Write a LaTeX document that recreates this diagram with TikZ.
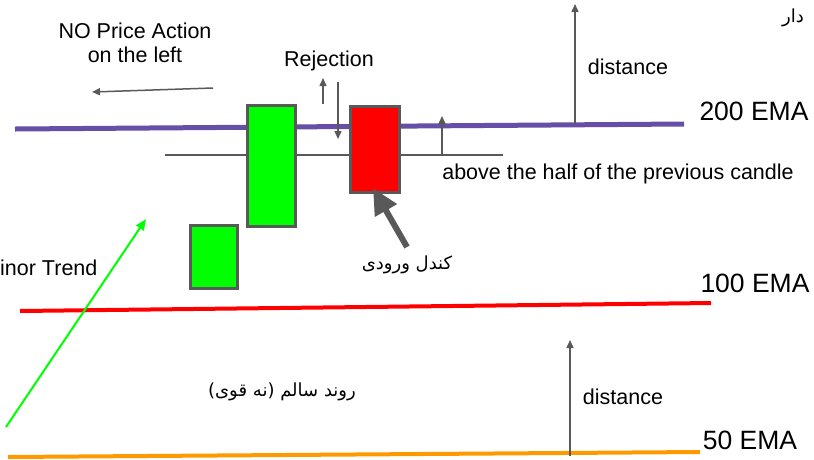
\documentclass[tikz,border=0pt]{standalone}
\usepackage{fontspec}
\setmainfont{Liberation Sans}
\newfontfamily\arabicfont[Script=Arabic]{DejaVu Sans}
\TeXXeTstate=1
\usetikzlibrary{positioning,arrows.meta}

\definecolor{emapurple}{HTML}{674EA7}
\definecolor{emared}{HTML}{FF0000}
\definecolor{emaorange}{HTML}{FF9900}
\definecolor{bullgreen}{HTML}{00FF00}
\definecolor{edgegray}{HTML}{595959}

\tikzset{
  candle/.style={draw=edgegray, line width=2.5pt, anchor=north west, inner sep=0pt},
  ptr/.style={draw=edgegray, line width=1.5pt, -{Triangle[width=7pt,length=8pt]}},
  lbl/.style={font=\fontsize{21.5}{24}\selectfont, inner sep=1pt},
  emalbl/.style={font=\fontsize{26.5}{30}\selectfont, inner sep=1pt},
  farsi/.style={font=\fontsize{18}{21}\selectfont\arabicfont, inner sep=1pt}
}

\begin{document}
\begin{tikzpicture}[x=1pt, y=-1pt]
    \useasboundingbox (0,0) rectangle (814,459);

    % moving averages
    \draw[emapurple, line width=5pt] (15,129) -- (684,124);
    \draw[emared, line width=4pt] (20,311) -- (711,303);
    \draw[emaorange, line width=4pt] (8,457) -- (700,452);
    \draw[edgegray, line width=1.5pt] (165,155) -- (503,155);

    % candles
    \node[candle, fill=bullgreen, minimum width=48pt, minimum height=121pt] (bigbull) at (246,104) {};
    \node[candle, fill=bullgreen, minimum width=47pt, minimum height=63pt] (smallbull) at (189,224) {};
    \node[candle, fill=emared, minimum width=49pt, minimum height=86pt] (entry) at (349,105) {};

    % labels
    \node[lbl, align=center] (noaction) at (135,43) {NO Price Action\\on the left};
    \node[lbl] (reject) at (329,61) {Rejection};
    \node[lbl] (distup) at (628,67) {distance};
    \node[lbl] (half) at (618,174) {above the half of the previous candle};
    \node[lbl] (distdown) at (623,397) {distance};
    \node[lbl, anchor=west] (minor) at (-1,268) {inor Trend};
    \node[emalbl] (ema200) at (754,111) {200 EMA};
    \node[emalbl] (ema100) at (755,283) {100 EMA};
    \node[emalbl] (ema50) at (750,440) {50 EMA};
    \node[farsi] (dar) at (793,18) {\beginR دار\endR};
    \node[farsi] (entrytxt) at (407,265) {\beginR کندل ورودی\endR};
    \node[farsi] (healthy) at (282,392) {\beginR روند سالم (نه قوی)\endR};

    % arrows
    \coordinate (leftfrom) at (213,88);
    \coordinate (leftto) at (92,92);
    \coordinate (rejupfrom) at (323,104);
    \coordinate (rejupto) at (323,78);
    \coordinate (rejdnfrom) at (338,82);
    \coordinate (rejdnto) at (338,139);
    \coordinate (halffrom) at (442,155);
    \coordinate (halfto) at (442,116);
    \coordinate (topfrom) at (575,124);
    \coordinate (topto) at (575,4);
    \coordinate (botfrom) at (570,456);
    \coordinate (botto) at (570,340);
    \coordinate (trendfrom) at (6,427);
    \coordinate (trendto) at (146,219);
    \coordinate (entrytail) at (407,247);
    \coordinate (entrytip) at (373,188);

    \draw[ptr] (leftfrom) -- (leftto);
    \draw[ptr] (rejupfrom) -- (rejupto);
    \draw[ptr] (rejdnfrom) -- (rejdnto);
    \draw[ptr] (halffrom) -- (halfto);
    \draw[ptr] (topfrom) -- (topto);
    \draw[ptr] (botfrom) -- (botto);
    \draw[bullgreen, line width=2pt, -{Triangle[width=9pt,length=11pt]}] (trendfrom) -- (trendto);
    \draw[edgegray, line width=6pt, -{Triangle[width=24pt,length=26pt]}] (entrytail) -- (entrytip);
  \end{tikzpicture}
\end{document}
